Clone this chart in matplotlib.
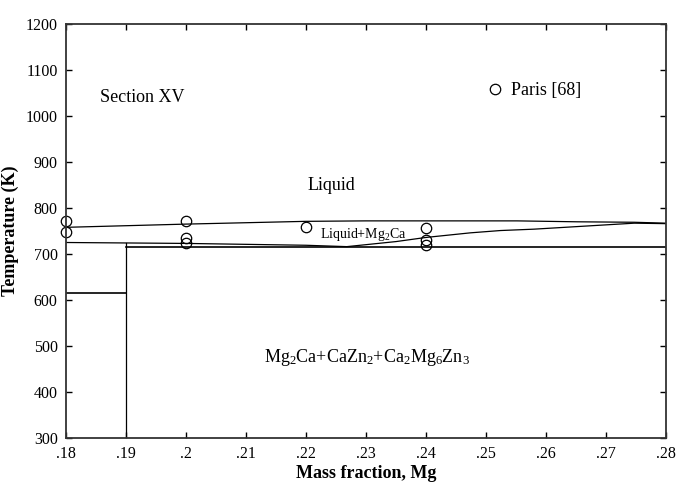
import matplotlib
matplotlib.use("Agg")
import matplotlib.pyplot as plt
from matplotlib.lines import Line2D

plt.rcParams['font.family'] = ['Liberation Serif', 'DejaVu Serif']
plt.rcParams['mathtext.fontset'] = 'custom'
plt.rcParams['mathtext.rm'] = 'Liberation Serif'
plt.rcParams['mathtext.it'] = 'Liberation Serif:italic'
plt.rcParams['mathtext.bf'] = 'Liberation Serif:bold'

# Calculated phase boundaries (mass fraction Mg, temperature K)
liquidus_x = [0.18, 0.20, 0.22, 0.23, 0.25, 0.2552, 0.2652, 0.2747, 0.28]
liquidus_T = [758, 765, 771, 772, 772, 772, 770, 769, 767]

mg2ca_x = [0.18, 0.19, 0.20, 0.21, 0.22, 0.2268, 0.235, 0.24, 0.2474, 0.2524, 0.258, 0.2747, 0.28]
mg2ca_T = [725, 724, 723, 721, 719, 716, 727, 736, 746, 751, 754, 767, 766]

eutectic_x = [0.19, 0.28]
eutectic_T = [716, 716]

left_vertical_x = [0.19, 0.19]
left_vertical_T = [724, 300]

left_horizontal_x = [0.18, 0.19]
left_horizontal_T = [616, 616]

# Experimental thermal analysis points
exp_x = [0.18, 0.18, 0.20, 0.20, 0.20, 0.22, 0.24, 0.24, 0.24]
exp_T = [772, 748, 772, 735, 723, 759, 757, 730, 720]

x_ticks = [0.18, 0.19, 0.20, 0.21, 0.22, 0.23, 0.24, 0.25, 0.26, 0.27, 0.28]
x_tick_labels = ['.18', '.19', '.2', '.21', '.22', '.23', '.24', '.25', '.26', '.27', '.28']
y_ticks = [300, 400, 500, 600, 700, 800, 900, 1000, 1100, 1200]

fig = plt.figure(figsize=(6.79, 4.84), dpi=100)
ax = fig.add_axes([66/679, 1 - 438/484, 600/679, 414/484])

lw = 0.9
ax.plot(liquidus_x, liquidus_T, color='black', lw=lw)
ax.plot(mg2ca_x, mg2ca_T, color='black', lw=lw)
ax.plot(eutectic_x, eutectic_T, color='black', lw=1.2)
ax.plot(left_vertical_x, left_vertical_T, color='black', lw=lw)
ax.plot(left_horizontal_x, left_horizontal_T, color='black', lw=1.2)

ax.plot(exp_x, exp_T, linestyle='none', marker='o', markersize=7.5,
        markerfacecolor='none', markeredgecolor='black', markeredgewidth=0.9,
        clip_on=False)

handle = Line2D([], [], linestyle='none', marker='o', markersize=7.5,
                markerfacecolor='none', markeredgecolor='black',
                markeredgewidth=0.9)
ax.legend([handle], ['Paris [68]'], loc='center left',
          bbox_to_anchor=(0.70, 0.839), frameon=False, fontsize=13,
          handlelength=1.0, handletextpad=0.4, borderpad=0, borderaxespad=0)

ax.text(0.1857, 1041, 'Section XV', fontsize=13, ha='left', va='center')
ax.text(0.2242, 850, 'Liquid', fontsize=13, ha='center', va='center')
ax.text(0.2296, 743, r'Liquid+Mg$_2$Ca', fontsize=10, ha='center', va='center')
ax.text(0.2302, 474, r'Mg$_2$Ca+CaZn$_2$+Ca$_2$Mg$_6$Zn$_3$', fontsize=13,
        ha='center', va='center')

ax.set_xlim(0.18, 0.28)
ax.set_ylim(300, 1200)
ax.set_xticks(x_ticks)
ax.set_xticklabels(x_tick_labels)
ax.set_yticks(y_ticks)
ax.tick_params(direction='in', length=4, width=1.0, top=True, right=True,
               labelsize=11.5, pad=6, colors='black')

for spine in ax.spines.values():
    spine.set_linewidth(1.3)
    spine.set_color('#333333')

ax.set_xlabel('Mass fraction, Mg', fontsize=13, fontweight='bold', labelpad=2)
ax.set_ylabel('Temperature (K)', fontsize=13, fontweight='bold', labelpad=5)

fig.savefig('out.png', dpi=100)
